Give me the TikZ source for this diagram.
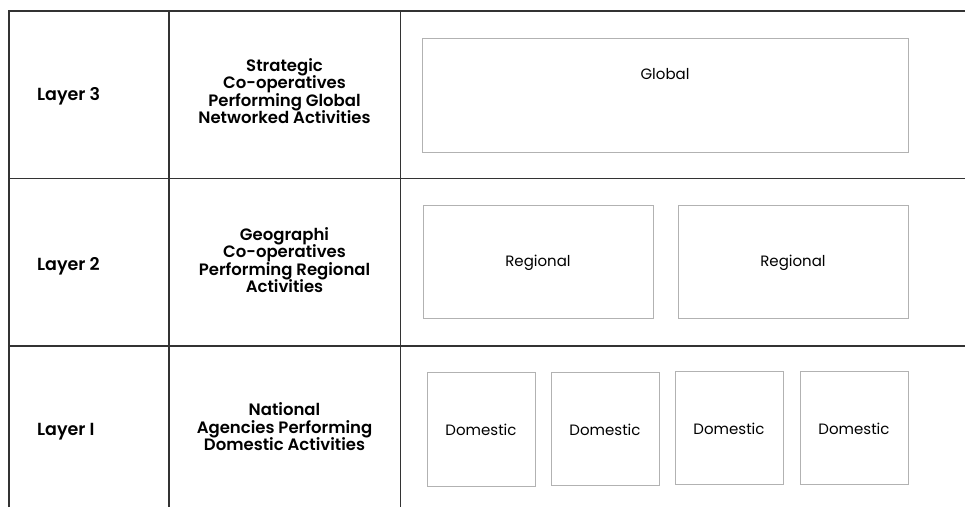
\documentclass[tikz,border=0pt]{standalone}
\usepackage{fontspec}
\setmainfont{Poppins}[BoldFont={Poppins SemiBold}]
\newcommand\tightls{\lineskiplimit -100pt\relax}
\begin{document}
\begin{tikzpicture}[x=1pt,y=1pt,
  grid/.style={draw=black!80, line width=1.3pt},
  unitbox/.style={draw=black!30, line width=0.9pt},
  layerlbl/.style={anchor=west, font=\bfseries\fontsize{17.5}{15}\selectfont, inner sep=0pt},
  desclbl/.style={align=center, font={\bfseries\fontsize{16.5}{17.4}\selectfont\tightls}, inner sep=0pt},
  boxlbl/.style={font=\fontsize{15}{18}\selectfont, inner sep=0pt}]
\useasboundingbox (0,0) rectangle (965,507);
% table grid
\coordinate (bl) at (9,0);
\coordinate (tl) at (9,496);
\coordinate (tr) at (965,496);
\draw[grid] (bl) -- (tl) -- (tr);
\draw[grid] (9,328.5) -- (965,328.5);
\draw[grid] (9,161) -- (965,161);
\draw[grid] (169,496) -- (169,0);
\draw[grid] (400.5,496) -- (400.5,0);
% layer labels
\node[layerlbl] (l3) at (37,411) {Layer 3};
\node[layerlbl] (l2) at (37,241) {Layer 2};
\node[layerlbl] (l1) at (37,75) {Layer I};
% descriptions
\node[desclbl] (d3) at (284.5,416) {Strategic\\Co-operatives\\Performing Global\\Networked Activities};
\node[desclbl] (d2) at (284.5,247) {Geographi\\Co-operatives\\Performing Regional\\Activities};
\node[desclbl] (d1) at (284.5,80) {National\\Agencies Performing\\Domestic Activities};
% layer 3 box
\draw[unitbox] (422,469) rectangle (908,355);
\node[boxlbl] (g) at (665,433) {Global};
% layer 2 boxes
\draw[unitbox] (423,302) rectangle (653,189);
\node[boxlbl] (r1) at (538,244) {Regional};
\draw[unitbox] (678,302) rectangle (908,189);
\node[boxlbl] (r2) at (793,244) {Regional};
% layer 1 boxes
\draw[unitbox] (427,135) rectangle (535,21);
\node[boxlbl] (dm1) at (481,77) {Domestic};
\draw[unitbox] (551,135) rectangle (659,22);
\node[boxlbl] (dm2) at (605,77) {Domestic};
\draw[unitbox] (675,136) rectangle (783,23);
\node[boxlbl] (dm3) at (729,78) {Domestic};
\draw[unitbox] (800,136) rectangle (908,23);
\node[boxlbl] (dm4) at (854,78) {Domestic};
\end{tikzpicture}
\end{document}
